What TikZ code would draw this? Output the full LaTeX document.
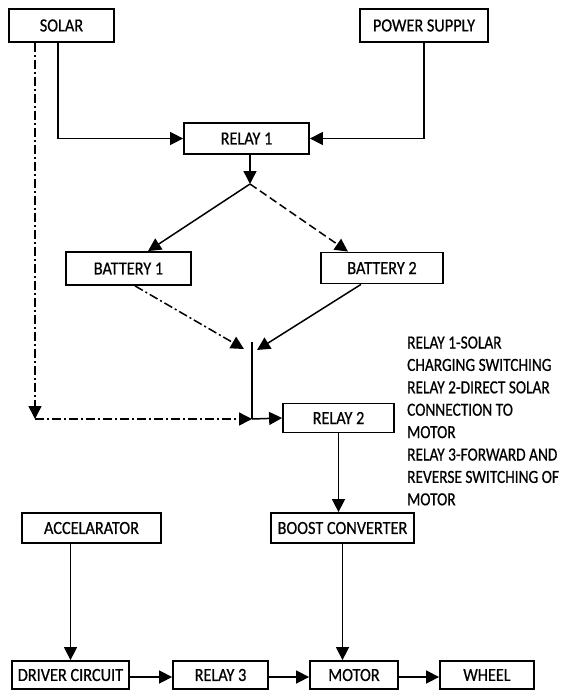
\documentclass[tikz,border=0pt]{standalone}
\usepackage{fontspec}
\setmainfont{Carlito}[FakeStretch=0.88,FakeBold=0.6]
\newfontfamily\notefont{Carlito}[FakeStretch=0.83,FakeBold=0.6]
\usetikzlibrary{arrows.meta,calc}
\begin{document}
\begin{tikzpicture}[x=1pt,y=-1pt,
  box/.style={draw,line width=1.8pt,rectangle,inner sep=0pt,font=\fontsize{18.5}{22}\selectfont},
  conn/.style={line width=1.5pt},
  arr/.style={conn,-{Triangle[length=13pt,width=13pt]}},
  dashdot/.style={dash pattern=on 9pt off 3pt on 2pt off 3pt},
  dashline/.style={dash pattern=on 8pt off 4pt},
  note/.style={anchor=base west,inner sep=0pt,font=\notefont\fontsize{18.5}{22}\selectfont}]
\useasboundingbox (0,0) rectangle (565,690);
% boxes
\node[box,minimum width=105pt,minimum height=33pt] (solar) at (61.5,25.5) {SOLAR};
\node[box,minimum width=128pt,minimum height=33pt] (power) at (424,25.5) {POWER SUPPLY};
\node[box,minimum width=125pt,minimum height=31pt] (relay1) at (246.5,138.5) {RELAY 1};
\node[box,minimum width=125pt,minimum height=33pt] (batt1) at (128.5,268.5) {BATTERY 1};
\node[box,minimum width=122pt,minimum height=31pt] (batt2) at (382,268) {BATTERY 2};
\node[box,minimum width=111pt,minimum height=29pt] (relay2) at (338.5,418) {RELAY 2};
\node[box,minimum width=143pt,minimum height=30pt] (boost) at (342.5,528) {BOOST CONVERTER};
\node[box,minimum width=139pt,minimum height=30pt] (accel) at (91.5,528) {ACCELARATOR};
\node[box,minimum width=117pt,minimum height=28pt] (driver) at (70.5,675) {DRIVER CIRCUIT};
\node[box,minimum width=95pt,minimum height=28pt] (relay3) at (220.5,675) {RELAY 3};
\node[box,minimum width=88pt,minimum height=28pt] (motor) at (354,675) {MOTOR};
\node[box,minimum width=94pt,minimum height=28pt] (wheel) at (487,675) {WHEEL};
% junction points
\coordinate (split) at (250,184);
\coordinate (m1) at (244,349);
\coordinate (m2) at (257,350);
\coordinate (mtop) at (252,342);
\coordinate (j) at (252,419);
\coordinate (corner) at (35,419);
% connectors
\draw[arr] ([xshift=-3.5pt]solar.south) |- (relay1.west);
\draw[arr] (power.south) |- (relay1.east);
\draw[arr] ([xshift=3.5pt]relay1.south) -- (split);
\draw[arr] (split) -- ([xshift=19.5pt]batt1.north);
\draw[arr,dashline] (split) -- ([xshift=-34pt]batt2.north);
\draw[arr,dashdot] ([xshift=6.5pt]batt1.south) -- (m1);
\draw[arr] ([xshift=-21pt]batt2.south) -- (m2);
\draw[conn] (mtop) -- (j);
\draw[arr,dashdot] ([xshift=-26.5pt]solar.south) -- (corner);
\draw[arr,dashdot] (corner) -- (j);
\draw[arr] (j) -- (relay2.west);
\draw[arr] (relay2.south) -- (relay2.south |- boost.north);
\draw[arr] (boost.south) -- (boost.south |- motor.north);
\draw[arr] (accel.south -| driver.north) -- (driver.north);
\draw[arr] ([yshift=-2pt]driver.east) -- ([yshift=-2pt]relay3.west);
\draw[arr] ([yshift=-2pt]relay3.east) -- ([yshift=-2pt]motor.west);
\draw[arr] ([yshift=-2pt]motor.east) -- ([yshift=-2pt]wheel.west);
% notes
\node[note] (n1) at (407,348.5) {RELAY 1-SOLAR};
\node[note] (n2) at (407,370.9) {CHARGING SWITCHING};
\node[note] (n3) at (407,393.3) {RELAY 2-DIRECT SOLAR};
\node[note] (n4) at (407,415.7) {CONNECTION TO};
\node[note] (n5) at (407,438.1) {MOTOR};
\node[note] (n6) at (407,460.5) {RELAY 3-FORWARD AND};
\node[note] (n7) at (407,482.9) {REVERSE SWITCHING OF};
\node[note] (n8) at (407,505.3) {MOTOR};
\end{tikzpicture}
\end{document}
